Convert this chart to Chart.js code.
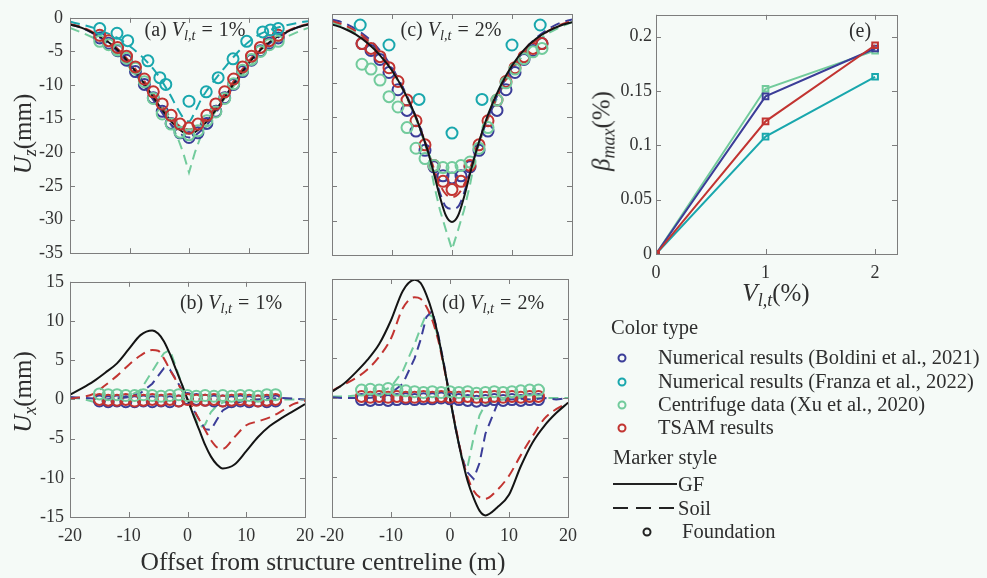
<!DOCTYPE html>
<html>
<head>
<meta charset="utf-8">
<script src="https://cdn.jsdelivr.net/npm/chart.js@4.4.1/dist/chart.umd.min.js"></script>
<style>
  html, body { margin: 0; padding: 0; background: #f5faf7; }
  #wrap { position: relative; width: 987px; height: 578px; background: #f5faf7; overflow: hidden; }
  canvas { position: absolute; }
  .t { position: absolute; font-family: "Liberation Serif", serif; color: #2e2e2e; white-space: nowrap; line-height: 1; }
  .c { transform: translate(-50%, -50%); }
  .l { transform: translateY(-50%); }
  .rot { transform: translate(-50%, -50%) rotate(-90deg); }
  .t sub { font-size: 0.72em; vertical-align: -0.3em; line-height: 0; }
  .eq { margin: 0 6px; }
  .dot { position: absolute; width: 5px; height: 5px; border: 2px solid; border-radius: 50%; transform: translate(-50%, -50%); }
</style>
</head>
<body>
<div id="wrap">
  <canvas id="pa"></canvas>
  <canvas id="pc"></canvas>
  <canvas id="pb"></canvas>
  <canvas id="pd"></canvas>
  <canvas id="pe"></canvas>

  <div class="t c" style="left:195px;top:29px;font-size:20px">(a) <i>V</i><sub><i>l,t</i></sub><span class="eq">=</span>1%</div>
  <div class="t c" style="left:451px;top:29px;font-size:20px">(c) <i>V</i><sub><i>l,t</i></sub><span class="eq">=</span>2%</div>
  <div class="t c" style="left:231px;top:302px;font-size:20px">(b) <i>V</i><sub><i>l,t</i></sub><span class="eq">=</span>1%</div>
  <div class="t c" style="left:493px;top:302px;font-size:20px">(d) <i>V</i><sub><i>l,t</i></sub><span class="eq">=</span>2%</div>
  <div class="t c" style="left:860px;top:30px;font-size:20px">(e)</div>

  <div class="t rot" style="left:22px;top:134px;font-size:25px"><i>U</i><sub><i>z</i></sub>(mm)</div>
  <div class="t rot" style="left:22px;top:392px;font-size:25px"><i>U</i><sub><i>x</i></sub>(mm)</div>
  <div class="t rot" style="left:601px;top:131px;font-size:25px"><i>β</i><sub><i>max</i></sub>(%)</div>
  <div class="t c" style="left:776px;top:292px;font-size:25px"><i>V</i><sub><i>l,t</i></sub>(%)</div>
  <div class="t c" style="left:323px;top:562px;font-size:25.5px">Offset from structure centreline (m)</div>

  <div class="t l" style="left:611px;top:327px;font-size:20.5px">Color type</div>
  <div class="dot" style="left:622px;top:358px;border-color:#3b3d98"></div>
  <div class="t l" style="left:658px;top:357px;font-size:20.5px">Numerical results (Boldini et al., 2021)</div>
  <div class="dot" style="left:622px;top:382px;border-color:#19a7ad"></div>
  <div class="t l" style="left:658px;top:381px;font-size:20.5px">Numerical results (Franza et al., 2022)</div>
  <div class="dot" style="left:622px;top:405px;border-color:#72cb9c"></div>
  <div class="t l" style="left:658px;top:404px;font-size:20.5px">Centrifuge data (Xu et al., 2020)</div>
  <div class="dot" style="left:622px;top:428px;border-color:#c23431"></div>
  <div class="t l" style="left:658px;top:427px;font-size:20.5px">TSAM results</div>
  <div class="t l" style="left:613px;top:457px;font-size:20.5px">Marker style</div>
  <svg style="position:absolute;left:612px;top:478px" width="66" height="36">
    <line x1="1" y1="6" x2="65" y2="6" stroke="#222" stroke-width="2"/>
    <line x1="1" y1="30" x2="65" y2="30" stroke="#222" stroke-width="2" stroke-dasharray="15,8"/>
  </svg>
  <div class="t l" style="left:678px;top:484px;font-size:20.5px">GF</div>
  <div class="t l" style="left:678px;top:508px;font-size:20.5px">Soil</div>
  <div class="dot" style="left:647px;top:532px;border-color:#222"></div>
  <div class="t l" style="left:682px;top:531px;font-size:20.5px">Foundation</div>
</div>

<script>
// offsets (m) used by the soil / greenfield curves and by the foundation markers
const xLine = [-20, -18, -16, -14, -12, -10, -8, -6, -5, -4, -3, -2, -1, 0, 1, 2, 3, 4, 5, 6, 8, 10, 12, 14, 16, 18, 20];
const xFound = [-15, -13.5, -12, -10.5, -9, -7.5, -6, -4.5, -3, -1.5, 0, 1.5, 3, 4.5, 6, 7.5, 9, 10.5, 12, 13.5, 15];

// (a) Uz, Vlt = 1%
const gfA = [-1.0, -1.5, -2.3, -3.3, -4.8, -6.8, -9.2, -11.8, -13.1, -14.3, -15.4, -16.3, -17.0, -17.2, -17.0, -16.3, -15.4, -14.3, -13.1, -11.8, -9.2, -6.8, -4.8, -3.3, -2.3, -1.5, -1.0];
const soilBlueA = [-1.0, -1.5, -2.4, -3.5, -5.0, -7.0, -9.5, -12.2, -13.5, -14.8, -15.9, -16.8, -17.5, -17.8, -17.5, -16.8, -15.9, -14.8, -13.5, -12.2, -9.5, -7.0, -5.0, -3.5, -2.4, -1.5, -1.0];
const soilRedA = [-0.9, -1.4, -2.2, -3.2, -4.6, -6.5, -8.8, -11.3, -12.6, -13.8, -14.9, -15.8, -16.4, -16.6, -16.4, -15.8, -14.9, -13.8, -12.6, -11.3, -8.8, -6.5, -4.6, -3.2, -2.2, -1.4, -0.9];
const soilGreenA = [-1.5, -2.2, -3.0, -4.1, -5.5, -7.4, -9.6, -12.0, -13.2, -14.5, -16.0, -17.6, -20.0, -23.0, -20.0, -17.6, -16.0, -14.5, -13.2, -12.0, -9.6, -7.4, -5.5, -4.1, -3.0, -2.2, -1.5];
const soilTealA = [-0.6, -1.0, -1.5, -2.2, -3.0, -4.2, -5.7, -7.6, -8.8, -10.2, -11.7, -13.4, -14.8, -15.4, -14.0, -12.2, -10.8, -9.6, -8.5, -7.4, -5.3, -3.6, -2.4, -1.7, -1.2, -0.8, -0.5];
const fBlueA = [-3.0, -3.8, -4.9, -6.3, -8.0, -9.9, -11.9, -13.9, -15.7, -17.1, -17.8, -17.1, -15.7, -13.9, -11.9, -9.9, -8.0, -6.3, -4.9, -3.8, -3.0];
const fRedA = [-2.6, -3.4, -4.4, -5.7, -7.3, -9.1, -11.0, -12.8, -14.5, -15.8, -16.4, -15.8, -14.5, -12.8, -11.0, -9.1, -7.3, -5.7, -4.4, -3.4, -2.6];
const fGreenA = [-3.5, -4.0, -4.8, -6.0, -7.5, -9.5, -12.0, -14.3, -15.8, -17.0, -17.4, -16.8, -15.3, -14.0, -12.0, -9.8, -7.8, -6.2, -5.0, -4.0, -3.5];
const xTealA = [-15, -12.1, -10.3, -6.9, -4.9, -3.9, 0, 2.9, 4.9, 7.4, 9.7, 12.4, 13.7, 15];
const fTealA = [-1.6, -2.3, -3.4, -6.4, -8.9, -9.9, -12.4, -11.0, -8.9, -6.1, -3.5, -2.1, -1.8, -1.6];

// (c) Uz, Vlt = 2%
const gfC = [-1.5, -2.1, -3.0, -4.3, -6.0, -8.2, -11.2, -15.0, -17.4, -20.0, -23.2, -26.6, -29.3, -30.2, -29.3, -26.6, -23.2, -20.0, -17.2, -14.6, -10.6, -7.5, -5.2, -3.6, -2.5, -1.7, -1.2];
const soilBlueC = [-0.8, -1.3, -2.2, -3.5, -5.3, -7.8, -11.0, -15.0, -17.4, -20.0, -23.0, -26.0, -28.0, -28.3, -28.0, -26.0, -23.0, -20.0, -17.4, -15.0, -11.0, -7.8, -5.3, -3.5, -2.2, -1.3, -0.8];
const soilRedC = [-1.0, -1.6, -2.5, -3.8, -5.6, -8.0, -11.2, -15.0, -17.3, -19.8, -22.5, -24.8, -26.2, -26.6, -26.2, -24.8, -22.5, -19.8, -17.3, -15.0, -11.2, -8.0, -5.6, -3.8, -2.5, -1.6, -1.0];
const soilGreenC = [-1.2, -1.9, -2.8, -4.0, -5.8, -8.2, -11.3, -15.2, -17.6, -20.3, -24.8, -28.5, -31.4, -34.2, -31.4, -28.5, -24.8, -20.3, -17.6, -15.2, -11.3, -8.2, -5.8, -4.0, -2.8, -1.9, -1.2];
const fBlueC = [-4.3, -5.3, -6.6, -8.5, -11.0, -14.0, -17.0, -19.8, -22.2, -23.5, -23.8, -23.5, -22.2, -19.8, -17.0, -14.0, -11.0, -8.5, -6.6, -5.3, -4.3];
const fRedC = [-4.3, -5.0, -6.2, -7.8, -9.8, -12.5, -15.5, -19.0, -22.0, -24.3, -25.5, -24.3, -22.0, -19.0, -15.5, -12.5, -9.8, -7.8, -6.2, -5.0, -4.3];
const fGreenC = [-7.3, -8.0, -9.6, -12.0, -13.5, -16.5, -19.5, -21.0, -22.0, -22.3, -22.3, -22.0, -21.5, -19.5, -16.5, -12.5, -10.0, -8.0, -6.5, -5.5, -5.0];
const xTealC = [-15.3, -10.5, -5.5, 0, 5, 10, 14.7];
const fTealC = [-1.6, -4.5, -12.4, -17.3, -12.4, -4.5, -1.6];

// (b) Ux, Vlt = 1%
const gfB = [0.6, 1.4, 2.3, 3.4, 4.6, 6.4, 8.2, 8.8, 8.4, 7.4, 5.8, 3.9, 2.0, 0, -2.0, -3.9, -5.8, -7.3, -8.3, -8.8, -8.3, -6.6, -4.8, -3.4, -2.4, -1.5, -0.6];
const soilRedB = [0.1, 0.3, 0.7, 1.8, 3.0, 4.4, 5.6, 6.3, 6.2, 5.2, 3.8, 2.5, 1.2, 0, -1.2, -2.6, -3.9, -5.2, -6.1, -6.3, -4.8, -3.3, -2.8, -2.3, -1.5, -0.6, -0.2];
const soilBlueB = [0.3, 0.2, 0.1, 0, 0.1, 0.3, 0.8, 2.0, 3.0, 4.0, 3.8, 2.6, 1.3, 0, -1.3, -2.6, -3.8, -3.9, -2.6, -1.4, -0.5, -0.1, 0, 0.1, 0.2, 0.1, 0];
const soilGreenB = [0.2, 0.1, -0.3, -0.1, 0.1, 0.4, 1.2, 3.6, 4.8, 5.9, 6.3, 4.2, 2.0, 0, -1.8, -3.6, -3.2, -1.6, -0.8, -0.4, -0.1, 0, 0, 0, 0, 0, 0];
const fGreenB = [0.7, 0.6, 0.6, 0.5, 0.5, 0.6, 0.5, 0.4, 0.5, 0.6, 0.5, 0.4, 0.5, 0.4, 0.5, 0.4, 0.5, 0.5, 0.4, 0.6, 0.6];
const fRedB = [0.0, -0.1, -0.1, 0.0, -0.2, -0.1, 0.0, -0.1, 0.0, -0.2, 0.0, -0.1, -0.1, 0.0, -0.2, -0.1, 0.0, -0.1, -0.2, -0.1, 0.0];
const fBlueB = [-0.2, -0.3, -0.2, -0.3, -0.3, -0.2, -0.3, -0.2, -0.3, -0.2, 0.1, 0.0, -0.1, -0.2, -0.2, -0.3, -0.2, -0.3, -0.2, -0.3, -0.2];

// (d) Ux, Vlt = 2%
const gfD = [0.8, 1.8, 3.2, 4.8, 6.8, 9.8, 13.5, 14.9, 14.5, 13.0, 10.8, 7.8, 4.0, 0, -4.0, -7.5, -10.5, -12.6, -14.2, -14.8, -13.8, -12.2, -8.6, -5.6, -3.5, -1.9, -0.6];
const soilRedD = [0.9, 1.7, 2.5, 3.6, 5.2, 7.5, 11.3, 12.7, 12.5, 11.5, 9.8, 7.3, 3.8, 0, -3.8, -7.3, -10.0, -11.7, -12.5, -12.7, -11.6, -9.8, -7.2, -4.8, -2.6, -1.4, -0.6];
const soilBlueD = [0.1, 0, 0, 0, 0.1, 0.6, 1.8, 5.0, 7.3, 10.2, 11.0, 8.0, 4.2, 0, -4.0, -7.5, -9.4, -10.2, -8.2, -4.5, -0.8, -0.2, -0.1, -0.2, 0, -0.2, 0];
const soilGreenD = [0.2, 0.2, 0.3, 0.4, 0.7, 1.4, 3.4, 6.8, 8.8, 10.6, 10.3, 7.6, 4.0, 0, -4.0, -7.6, -8.6, -5.0, -2.2, -0.8, -0.3, -0.1, 0, 0, 0, 0, 0];
const fGreenD = [1.0, 1.1, 1.0, 1.2, 1.0, 0.9, 0.8, 0.7, 0.8, 0.7, 0.8, 0.7, 0.8, 0.6, 0.7, 0.8, 0.7, 0.8, 0.9, 1.0, 1.0];
const fRedD = [0.2, 0.1, 0.2, 0.1, 0.2, 0.1, 0.1, 0.2, 0.1, 0.2, 0.1, 0.1, 0.2, 0.1, 0.1, 0.2, 0.1, 0.2, 0.1, 0.2, 0.2];
const fBlueD = [-0.2, -0.3, -0.2, -0.3, -0.2, -0.1, -0.2, -0.1, -0.1, 0.0, -0.1, -0.2, -0.3, -0.4, -0.3, -0.2, -0.3, -0.2, -0.3, -0.2, -0.2];

// (e) maximum rotation vs volume loss
const vltE = [0, 1, 2];
const betaGreen = [0, 0.152, 0.187];
const betaBlue = [0, 0.145, 0.189];
const betaRed = [0, 0.122, 0.192];
const betaTeal = [0, 0.108, 0.163];

const COL = { blue: '#3b3d98', teal: '#19a7ad', green: '#72cb9c', red: '#c23431', black: '#141414' };
const FONT = { family: '"Liberation Serif", serif', size: 18 };
const TXT = '#333';

const pts = (xs, ys) => xs.map((x, i) => ({ x, y: ys[i] }));

function curve(ys, color, dashed, smooth = true, width = 2) {
  return {
    data: pts(xLine, ys), showLine: true, borderColor: color, borderWidth: width,
    borderDash: dashed ? [10, 6] : [], pointRadius: 0, fill: false,
    cubicInterpolationMode: smooth ? 'monotone' : 'default', tension: 0
  };
}

function rings(xs, ys, color) {
  return {
    data: pts(xs, ys), showLine: false, borderColor: color, backgroundColor: 'rgba(0,0,0,0)',
    borderWidth: 2, pointRadius: 5.5, pointHoverRadius: 5.5
  };
}

// box round the plot with inward ticks on all four sides, like matlab
const frame = {
  id: 'frame',
  afterDraw(chart) {
    const { ctx, chartArea: a, scales: { x, y } } = chart;
    ctx.save();
    ctx.strokeStyle = '#7d7d7d';
    ctx.lineWidth = 1;
    ctx.strokeRect(Math.round(a.left) + 0.5, Math.round(a.top) + 0.5, Math.round(a.right - a.left), Math.round(a.bottom - a.top));
    ctx.beginPath();
    x.ticks.forEach(t => {
      const p = Math.round(x.getPixelForValue(t.value)) + 0.5;
      ctx.moveTo(p, a.bottom); ctx.lineTo(p, a.bottom - 5);
      ctx.moveTo(p, a.top); ctx.lineTo(p, a.top + 5);
    });
    y.ticks.forEach(t => {
      const p = Math.round(y.getPixelForValue(t.value)) + 0.5;
      ctx.moveTo(a.left, p); ctx.lineTo(a.left + 5, p);
      ctx.moveTo(a.right, p); ctx.lineTo(a.right - 5, p);
    });
    ctx.stroke();
    ctx.restore();
  }
};

function panel(id, area, o) {
  const [l, t, r, b] = area;
  const padT = 14, padR = 14;
  const w = r - l + o.yw + padR, h = b - t + padT + o.xh;
  const cv = document.getElementById(id);
  cv.width = w; cv.height = h;
  cv.style.left = (l - o.yw) + 'px';
  cv.style.top = (t - padT) + 'px';
  cv.style.width = w + 'px';
  cv.style.height = h + 'px';
  return new Chart(cv, {
    type: 'scatter',
    data: { datasets: o.datasets },
    options: {
      responsive: false,
      animation: false,
      events: [],
      layout: { padding: { top: padT, right: padR, left: 0, bottom: 0 } },
      plugins: { legend: { display: false }, tooltip: { enabled: false } },
      scales: {
        x: {
          type: 'linear', min: o.x[0], max: o.x[1],
          grid: { display: false, drawTicks: false }, border: { display: false },
          ticks: { stepSize: o.x[2], includeBounds: false, display: o.xLabels, padding: 8, font: FONT, color: TXT, maxRotation: 0,
                   callback: v => String(v) },
          afterFit: s => { s.height = o.xh; }
        },
        y: {
          type: 'linear', min: o.y[0], max: o.y[1],
          grid: { display: false, drawTicks: false }, border: { display: false },
          ticks: { stepSize: o.y[2], includeBounds: false, display: o.yLabels, padding: o.ypad || 6, font: FONT, color: TXT,
                   callback: v => String(+v.toFixed(2)) },
          afterFit: s => { s.width = o.yw; }
        }
      }
    },
    plugins: [frame]
  });
}

panel('pa', [70, 14, 308, 255], {
  yw: 70, xh: 16, x: [-20, 20, 10], y: [-35, 0, 5], xLabels: false, yLabels: true, ypad: 7,
  datasets: [
    rings(xTealA, fTealA, COL.teal),
    rings(xFound, fRedA, COL.red),
    rings(xFound, fGreenA, COL.green),
    rings(xFound, fBlueA, COL.blue),
    curve(gfA, COL.black, false),
    curve(soilTealA, COL.teal, true),
    curve(soilRedA, COL.red, true),
    curve(soilBlueA, COL.blue, true),
    curve(soilGreenA, COL.green, true, false)
  ]
});

panel('pc', [332, 14, 572, 255], {
  yw: 16, xh: 16, x: [-20, 20, 10], y: [-35, 0, 5], xLabels: false, yLabels: false,
  datasets: [
    rings(xTealC, fTealC, COL.teal),
    curve(gfC, COL.black, false),
    rings(xFound, fGreenC, COL.green),
    rings(xFound, fRedC, COL.red),
    rings(xFound, fBlueC, COL.blue),
    curve(soilRedC, COL.red, true),
    curve(soilBlueC, COL.blue, true),
    curve(soilGreenC, COL.green, true, false)
  ]
});

panel('pb', [70, 279, 308, 517], {
  yw: 70, xh: 40, x: [-20, 20, 10], y: [-15, 15, 5], xLabels: true, yLabels: true, ypad: 6,
  datasets: [
    rings(xFound, fGreenB, COL.green),
    rings(xFound, fRedB, COL.red),
    rings(xFound, fBlueB, COL.blue),
    curve(gfB, COL.black, false),
    curve(soilRedB, COL.red, true),
    curve(soilBlueB, COL.blue, true, false),
    curve(soilGreenB, COL.green, true, false)
  ]
});

panel('pd', [332, 279, 571, 517], {
  yw: 24, xh: 40, x: [-20, 20, 10], y: [-15, 15, 5], xLabels: true, yLabels: false,
  datasets: [
    rings(xFound, fGreenD, COL.green),
    rings(xFound, fRedD, COL.red),
    rings(xFound, fBlueD, COL.blue),
    curve(gfD, COL.black, false),
    curve(soilRedD, COL.red, true),
    curve(soilBlueD, COL.blue, true, false),
    curve(soilGreenD, COL.green, true, false)
  ]
});

function betaLine(ys, color) {
  return {
    data: pts(vltE, ys), showLine: true, borderColor: color, borderWidth: 2,
    pointStyle: 'rect', pointRadius: 4, pointBorderWidth: 2,
    pointBackgroundColor: 'rgba(0,0,0,0)', pointBorderColor: color, tension: 0
  };
}

panel('pe', [656, 14, 897, 254], {
  yw: 66, xh: 40, x: [0, 2.2, 1], y: [0, 0.22, 0.05], xLabels: true, yLabels: true, ypad: 4,
  datasets: [
    betaLine(betaRed, COL.red),
    betaLine(betaBlue, COL.blue),
    betaLine(betaGreen, COL.green),
    betaLine(betaTeal, COL.teal)
  ]
});
</script>
</body>
</html>
